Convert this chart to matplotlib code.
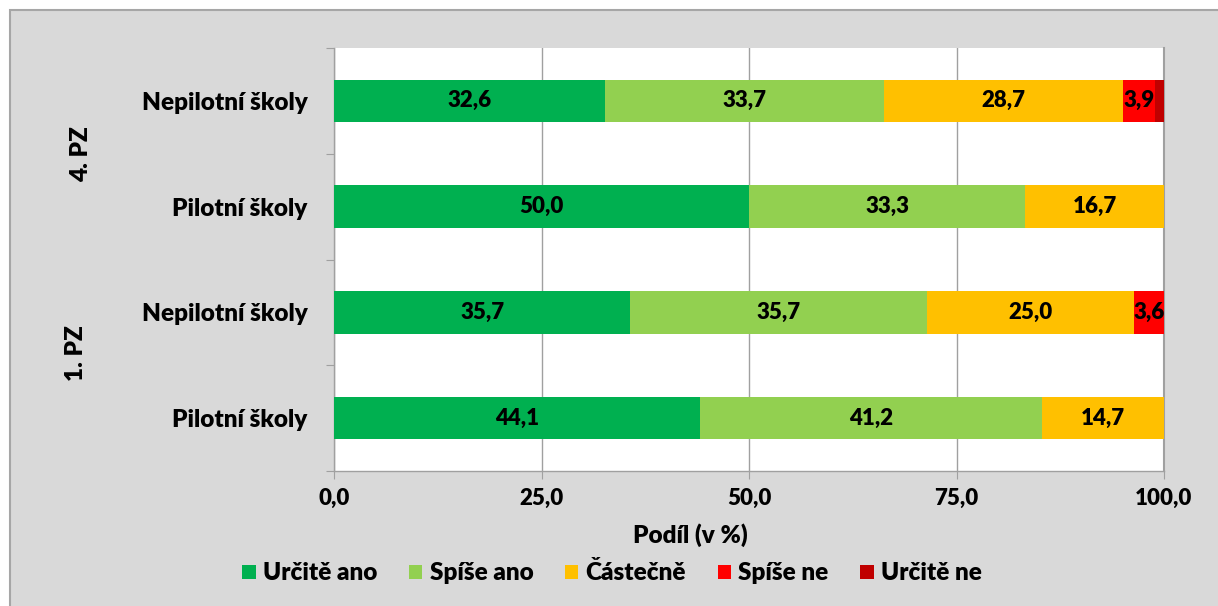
import matplotlib
matplotlib.use("Agg")
import matplotlib.pyplot as plt
from matplotlib.patches import Rectangle
import numpy as np

FW = "heavy"
plt.rcParams['font.family'] = ['Lato', 'DejaVu Sans']
plt.rcParams['font.weight'] = FW

categories = ["Pilotní školy", "Nepilotní školy", "Pilotní školy", "Nepilotní školy"]
groups = ["1. PZ", "4. PZ"]
series = ["Určitě ano", "Spíše ano", "Částečně", "Spíše ne", "Určitě ne"]
urcite_ano = [44.1, 35.7, 50.0, 32.6]
spise_ano = [41.2, 35.7, 33.3, 33.7]
castecne = [14.7, 25.0, 16.7, 28.7]
spise_ne = [0.0, 3.6, 0.0, 3.9]
urcite_ne = [0.0, 0.0, 0.0, 1.1]
colors = ["#00B050", "#92D050", "#FFC000", "#FF0000", "#C00000"]
xticks = [0, 25, 50, 75, 100]
xtick_labels = ["0,0", "25,0", "50,0", "75,0", "100,0"]

W, H = 1218, 606
fig = plt.figure(figsize=(W / 100, H / 100), dpi=100)
fig.patch.set_facecolor("white")
bg = Rectangle((10 / W, -0.01), 1.2, (H - 10) / H + 0.01, transform=fig.transFigure,
               facecolor="#d9d9d9", edgecolor="#a6a6a6", linewidth=1.5, zorder=-10)
fig.patches.append(bg)

ax = fig.add_axes([334 / W, 1 - 471 / H, 830 / W, 423 / H])
ax.set_zorder(1)
ax.set_facecolor("white")

data = [urcite_ano, spise_ano, castecne, spise_ne, urcite_ne]
y = np.arange(len(categories))
left = np.zeros(len(categories))
for vals, col, name in zip(data, colors, series):
    vals = np.array(vals)
    ax.barh(y, vals, left=left, height=0.4, color=col, label=name, zorder=3)
    for yi, v, l in zip(y, vals, left):
        if v >= 2:
            ax.text(l + v / 2, yi, f"{v:.1f}".replace(".", ","), ha="center", va="center",
                    fontsize=16, fontweight=FW, color="black", zorder=4)
    left = left + vals

ax.set_xlim(0, 100)
ax.set_ylim(-0.5, 3.5)
ax.set_xticks(xticks)
ax.set_xticklabels(xtick_labels, fontsize=16, fontweight=FW)
ax.grid(axis="x", color="#a0a0a0", linewidth=1, zorder=1)
ax.tick_params(axis="x", length=6, color="#a0a0a0", pad=6)

ax.set_yticks([-0.5, 0.5, 1.5, 2.5, 3.5])
ax.set_yticklabels([])
ax.tick_params(axis="y", which="major", length=6, color="#a0a0a0")
ax.set_yticks(y, minor=True)
ax.set_yticklabels(categories, minor=True, fontsize=17.5, fontweight=FW)
ax.tick_params(axis="y", which="minor", length=0, pad=19)

ax.spines["top"].set_visible(False)
for s in ["left", "bottom", "right"]:
    ax.spines[s].set_color("#a0a0a0")
    ax.spines[s].set_linewidth(1)
ax.spines["right"].set_linewidth(1.5)

fig.text(81 / W, 1 - 154 / H, groups[1], rotation=90, ha="center", va="center",
         fontsize=17.5, fontweight=FW)
fig.text(76 / W, 1 - 353 / H, groups[0], rotation=90, ha="center", va="center",
         fontsize=17.5, fontweight=FW)

fig.text(690 / W, 1 - 535 / H, "Podíl (v %)", ha="center", va="center",
         fontsize=17.5, fontweight=FW)

handles = [Rectangle((0, 0), 1, 1, facecolor=c, edgecolor="none") for c in colors]
leg = fig.legend(handles, series, loc="center", bbox_to_anchor=(612 / W, 1 - 573 / H),
                 ncol=5, frameon=False, prop={"size": 17.5, "weight": FW},
                 handlelength=0.55, handleheight=0.55, handletextpad=0.3, columnspacing=1.3)

fig.savefig("out.png", dpi=100)
